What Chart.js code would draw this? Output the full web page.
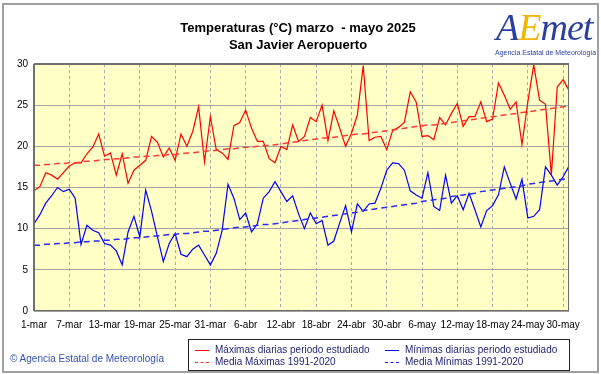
<!DOCTYPE html>
<html><head><meta charset="utf-8">
<script src="https://cdn.jsdelivr.net/npm/chart.js@4.4.1/dist/chart.umd.min.js"></script>
<style>
html,body{margin:0;padding:0;background:#fff;}
#wrap{position:relative;width:601px;height:374px;overflow:hidden;background:#fff;font-family:"Liberation Sans",Arial,sans-serif;}
#c{position:absolute;left:0;top:0;}
#frame{position:absolute;left:2px;top:3px;width:593px;height:366px;border:2px solid #a0a0a0;pointer-events:none;}
#title{position:absolute;left:0;width:596px;top:19px;text-align:center;font-weight:bold;font-size:13px;line-height:17px;color:#000;}
#legend{position:absolute;left:188px;top:339px;width:380px;height:30px;border:1px solid #222;background:#fff;font-size:10px;color:#1e1e6e;}
.li{position:absolute;height:12px;line-height:12px;white-space:nowrap;}
.sw{position:absolute;width:14px;top:6px;height:0;}
.lt{position:absolute;left:20px;top:0;}
#copy{position:absolute;left:10px;top:353px;font-size:10px;color:#3554b0;white-space:nowrap;}
#logo{position:absolute;left:490px;top:4px;width:104px;height:56px;}
#logo .big{position:absolute;left:6px;top:2px;font-family:"Liberation Serif",serif;font-style:italic;font-size:38px;line-height:42px;color:#2a3f9e;letter-spacing:-1px;}
#logo .big .e{color:#f2b500;}
#logo .small{position:absolute;left:5px;top:45px;font-size:7px;color:#2a3f9e;white-space:nowrap;}
</style></head>
<body>
<div id="wrap">
<canvas id="c" width="601" height="374"></canvas>
<div id="frame"></div>
<div id="title">Temperaturas (°C) marzo&nbsp; - mayo 2025<br>San Javier Aeropuerto</div>
<div id="logo"><div class="big">A<span class="e">E</span>met</div><div class="small">Agencia Estatal de Meteorología</div></div>
<div id="legend">
  <div class="li" style="left:6px;top:4px;"><div class="sw" style="border-top:1.5px solid #ff0000"></div><div class="lt">Máximas diarias periodo estudiado</div></div>
  <div class="li" style="left:6px;top:16px;"><div class="sw" style="border-top:1.5px dashed #ff3030"></div><div class="lt">Media Máximas 1991-2020</div></div>
  <div class="li" style="left:196px;top:4px;"><div class="sw" style="border-top:1.5px solid #0000ff"></div><div class="lt">Mínimas diarias periodo estudiado</div></div>
  <div class="li" style="left:196px;top:16px;"><div class="sw" style="border-top:1.5px dashed #2020ff"></div><div class="lt">Media Mínimas 1991-2020</div></div>
</div>
<div id="copy">© Agencia Estatal de Meteorología</div>
</div>
<script>
// Categories: 1 March - 31 May 2025
const months = [["mar", 31], ["abr", 30], ["may", 31]];
const categories = [];
months.forEach(([m, n]) => { for (let d = 1; d <= n; d++) categories.push(d + "-" + m); });

const tickLabels = ["1-mar","7-mar","13-mar","19-mar","25-mar","31-mar","6-abr","12-abr","18-abr","24-abr","30-abr","6-may","12-may","18-may","24-may","30-may"];

const maxDaily = [14.6,15.1,16.8,16.5,16.0,16.8,17.6,18.0,18.0,19.1,19.9,21.5,18.8,19.2,16.5,19.1,15.5,17.1,17.7,18.3,
21.2,20.5,18.7,19.8,18.3,21.5,20.0,21.8,24.8,18.1,23.6,19.6,19.2,18.4,22.5,22.9,24.4,22.2,20.6,20.6,
18.5,18.0,20.0,19.6,22.6,20.6,21.2,23.5,23.0,25.0,20.7,24.3,22.2,20.0,21.6,23.8,29.8,20.7,21.1,21.2,
19.6,21.9,22.3,22.9,26.6,25.4,21.2,21.3,20.8,23.5,22.6,24.0,25.2,22.4,23.6,23.6,25.4,23.0,23.3,27.7,
26.2,24.5,25.4,20.2,25.4,29.9,25.6,25.1,16.5,27.2,28.1,26.8];

const minDaily = [10.6,11.7,13.1,14.0,15.0,14.5,14.8,13.7,8.1,10.4,9.8,9.5,8.2,8.0,7.3,5.6,9.6,11.5,9.0,14.7,
12.1,9.0,6.0,8.2,9.4,6.9,6.6,7.5,8.0,6.8,5.6,7.0,9.8,15.4,13.7,11.1,11.9,9.6,10.6,13.7,
14.5,15.7,14.5,13.3,14.0,11.8,10.0,11.9,10.6,11.0,8.0,8.5,10.7,12.8,9.6,13.0,12.1,13.0,13.1,14.9,
17.1,18.0,17.9,17.1,14.6,14.1,13.7,16.8,12.7,12.2,16.5,13.1,14.0,12.3,14.3,12.3,10.2,12.2,12.8,14.1,
17.5,15.5,13.6,16.0,11.3,11.5,12.3,17.5,16.5,15.3,16.3,17.6];

const meanMax = [17.7,17.7,17.8,17.8,17.9,17.9,18.0,
18.0,18.1,18.2,18.2,18.3,18.4,
18.4,18.5,18.5,18.6,18.7,18.7,
18.8,18.8,18.9,18.9,19.0,19.0,
19.1,19.2,19.2,19.3,19.4,19.5,
19.5,19.6,19.7,19.7,19.8,19.9,
19.9,20.0,20.1,20.1,20.2,20.3,
20.4,20.5,20.6,20.7,20.8,20.9,
21.0,21.0,21.1,21.2,21.3,21.4,
21.5,21.5,21.6,21.7,21.8,21.9,
22.0,22.1,22.2,22.3,22.4,22.5,
22.6,22.6,22.7,22.8,22.9,23.0,
23.1,23.2,23.3,23.4,23.5,23.6,
23.7,23.8,23.9,24.0,24.1,24.2,
24.3,24.4,24.5,24.6,24.7,24.8,24.9];

const meanMin = [8.0,8.0,8.1,8.1,8.2,8.2,8.3,
8.3,8.4,8.4,8.5,8.5,8.6,
8.6,8.7,8.7,8.8,8.9,8.9,
9.0,9.1,9.1,9.2,9.3,9.3,
9.4,9.4,9.5,9.6,9.7,9.7,
9.8,9.9,10.0,10.1,10.2,10.2,
10.3,10.4,10.5,10.5,10.6,10.7,
10.8,10.9,11.0,11.1,11.2,11.3,
11.4,11.5,11.6,11.7,11.8,11.9,
12.0,12.2,12.3,12.4,12.5,12.6,
12.7,12.8,12.9,13.0,13.1,13.3,
13.4,13.5,13.6,13.7,13.9,14.0,
14.1,14.2,14.3,14.5,14.6,14.7,
14.8,14.9,15.0,15.1,15.2,15.4,
15.5,15.6,15.7,15.8,15.9,16.0,16.1];

const yTicks = [0, 5, 10, 15, 20, 25, 30];

const plotBg = {
  id: 'plotBg',
  beforeDraw(chart) {
    const {ctx, chartArea: a} = chart;
    ctx.save();
    ctx.fillStyle = '#ffffc6';
    ctx.fillRect(a.left, a.top, a.right - a.left, a.bottom - a.top);
    ctx.restore();
  },
  afterDraw(chart) {
    const {ctx, chartArea: a} = chart;
    ctx.save();
    ctx.strokeStyle = '#6a6a6a';
    ctx.lineWidth = 1;
    ctx.strokeRect(a.left + 0.5, a.top + 0.5, a.right - a.left - 1, a.bottom - a.top - 1);
    ctx.strokeStyle = '#707070';
    ctx.lineWidth = 2;
    ctx.beginPath(); ctx.moveTo(a.left, a.top); ctx.lineTo(a.left, a.bottom); ctx.stroke();
    ctx.beginPath(); ctx.moveTo(a.left, a.top); ctx.lineTo(a.right, a.top); ctx.stroke();
    ctx.restore();
  }
};

new Chart(document.getElementById('c'), {
  type: 'line',
  data: {
    labels: categories,
    datasets: [
      {label: 'Media Máximas 1991-2020', data: meanMax, borderColor: '#ff3a3a', borderWidth: 1.5, borderDash: [6, 4], pointRadius: 0, tension: 0},
      {label: 'Media Mínimas 1991-2020', data: meanMin, borderColor: '#2a2aff', borderWidth: 1.5, borderDash: [6, 4], pointRadius: 0, tension: 0},
      {label: 'Máximas diarias periodo estudiado', data: maxDaily, borderColor: '#ff0000', borderWidth: 1.2, pointRadius: 0, tension: 0},
      {label: 'Mínimas diarias periodo estudiado', data: minDaily, borderColor: '#0000ff', borderWidth: 1.2, pointRadius: 0, tension: 0}
    ]
  },
  options: {
    responsive: false,
    animation: false,
    events: [],
    layout: {padding: {left: 0, top: 64, right: 32, bottom: 0}},
    plugins: {legend: {display: false}, title: {display: false}, tooltip: {enabled: false}},
    scales: {
      x: {
        type: 'category',
        offset: false,
        afterFit(s) { s.height = 63; },
        border: {display: false, dash: [3, 3]},
        grid: {
          drawTicks: false,
          lineWidth: 1,
          color: (c) => (c.index % 6 === 0 && c.index > 0) ? '#a8a8a8' : 'rgba(0,0,0,0)'
        },
        ticks: {
          autoSkip: false,
          maxRotation: 0,
          padding: 8,
          color: '#000',
          font: {family: 'Liberation Sans', size: 10},
          callback: (v, i) => (i % 6 === 0) ? tickLabels[i / 6] : ''
        }
      },
      y: {
        min: 0, max: 30,
        afterFit(s) { s.width = 34; },
        afterBuildTicks(s) { s.ticks = yTicks.map(v => ({value: v})); },
        border: {display: false},
        grid: {drawTicks: false, color: '#a4a4a4', lineWidth: 1},
        ticks: {padding: 6, color: '#000', font: {family: 'Liberation Sans', size: 10}}
      }
    }
  },
  plugins: [plotBg]
});
</script>
</body></html>
